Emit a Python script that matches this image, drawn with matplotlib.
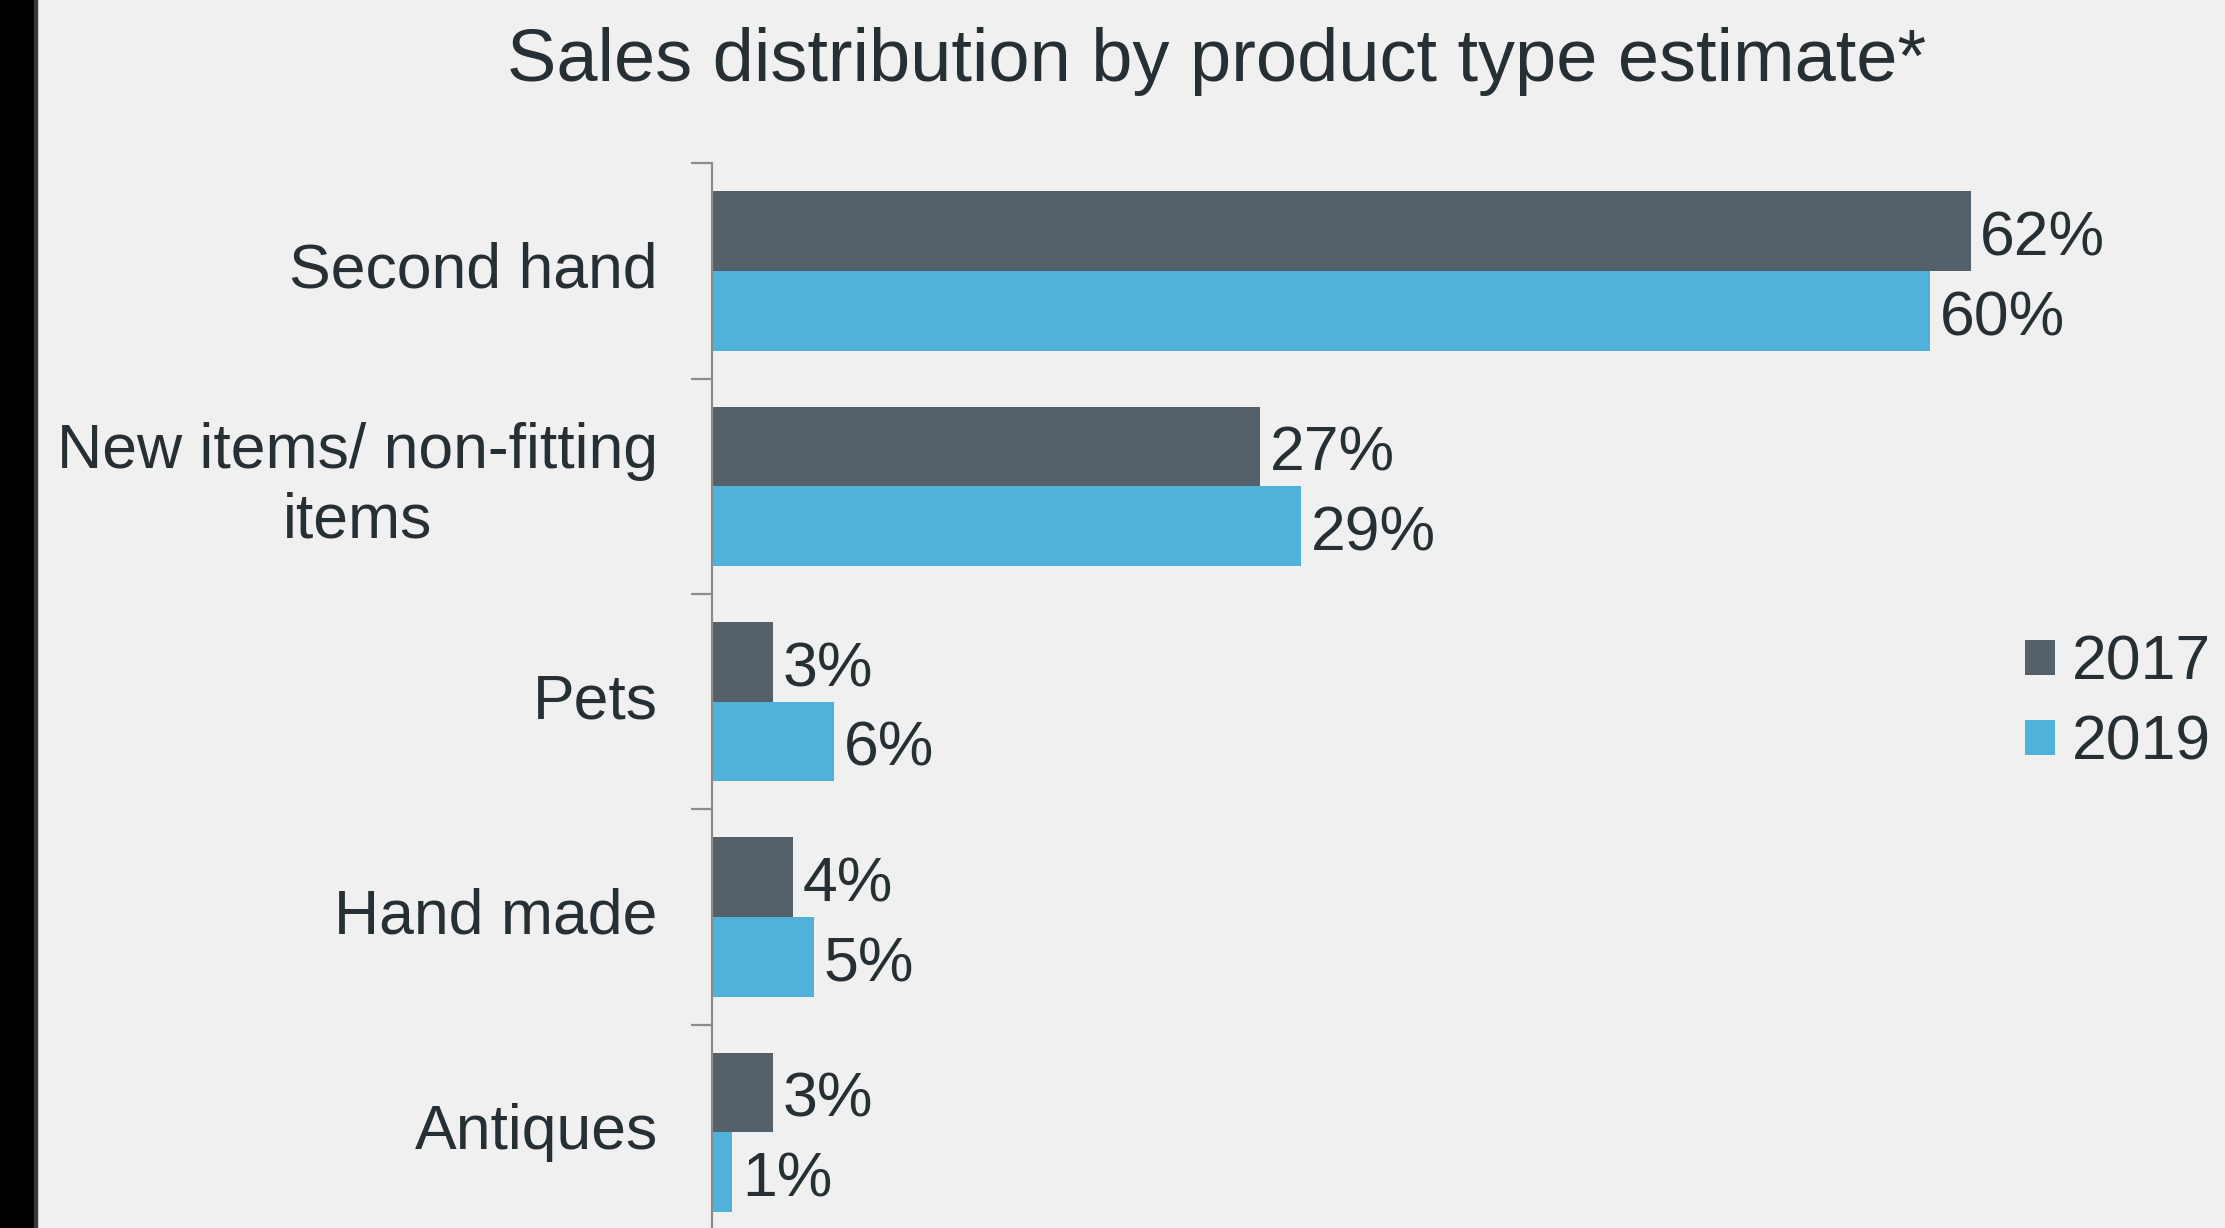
import matplotlib
matplotlib.use("Agg")
import matplotlib.pyplot as plt
from matplotlib.patches import Rectangle
import numpy as np

categories = ["Second hand", "New items/ non-fitting\nitems", "Pets", "Hand made", "Antiques"]
series_names = ["2017", "2019"]
values_2017 = [62, 27, 3, 4, 3]
values_2019 = [60, 29, 6, 5, 1]

BG = "#f0f0f0"
TXT = "#262f33"
C2017 = "#54616b"
C2019 = "#50b2da"
AXC = "#8c8c8c"

plt.rcParams['font.family'] = ['Liberation Sans', 'DejaVu Sans']

W, H = 2225, 1228
fig = plt.figure(figsize=(W / 100, H / 100), dpi=100, facecolor=BG)

# left decorative strip
fig.patches.append(Rectangle((0, 0), 34 / W, 1, transform=fig.transFigure, color="black", zorder=0))
fig.patches.append(Rectangle((34 / W, 0), 3 / W, 1, transform=fig.transFigure, color="#3a3a3a", zorder=0))

top_px = 163.5
bottom_px = top_px + 5 * 215.3
ax = fig.add_axes([712 / W, 1 - bottom_px / H, 1421 / W, (bottom_px - top_px) / H])
ax.set_facecolor(BG)

y = np.arange(len(categories))
bh = 0.37
b1 = ax.barh(y - bh / 2, values_2017, height=bh, color=C2017, label=series_names[0])
b2 = ax.barh(y + bh / 2, values_2019, height=bh, color=C2019, label=series_names[1])

ax.set_xlim(0, 70)
ax.set_ylim(len(categories) - 0.5, -0.5)

for s in ["top", "right", "bottom"]:
    ax.spines[s].set_visible(False)
ax.spines["left"].set_color(AXC)
ax.spines["left"].set_linewidth(1.6)

ax.set_xticks([])
ax.set_yticks(y)
ax.set_yticklabels(categories, fontsize=45, color=TXT, linespacing=1.22, multialignment="center")
ax.tick_params(axis="y", which="major", length=0, pad=39)
ax.set_yticks(np.arange(-0.5, len(categories), 1.0), minor=True)
ax.tick_params(axis="y", which="minor", length=15, width=1.6, color=AXC)
plt.setp(ax.get_yticklabels(), va="center")

for yy, v in zip(y - bh / 2, values_2017):
    ax.annotate(f"{v}%", xy=(v, yy), xytext=(7, -5.5), textcoords="offset points",
                va="center", ha="left", fontsize=45, color=TXT)
for yy, v in zip(y + bh / 2, values_2019):
    ax.annotate(f"{v}%", xy=(v, yy), xytext=(7, -5.5), textcoords="offset points",
                va="center", ha="left", fontsize=45, color=TXT)

leg = ax.legend(handles=[b1, b2], labels=series_names, loc="center left",
                bbox_to_anchor=(2025 / W, 1 - 703 / H), bbox_transform=fig.transFigure,
                frameon=False, fontsize=45, handlelength=0.48, handleheight=0.48,
                handletextpad=0.27, labelspacing=0.33, borderpad=0, borderaxespad=0)
for t in leg.get_texts():
    t.set_color(TXT)

fig.text(1217 / W, 1 - 61 / H, "Sales distribution by product type estimate*",
         ha="center", va="center", fontsize=53.3, color=TXT)

fig.savefig("out.png", dpi=100, facecolor=BG)
